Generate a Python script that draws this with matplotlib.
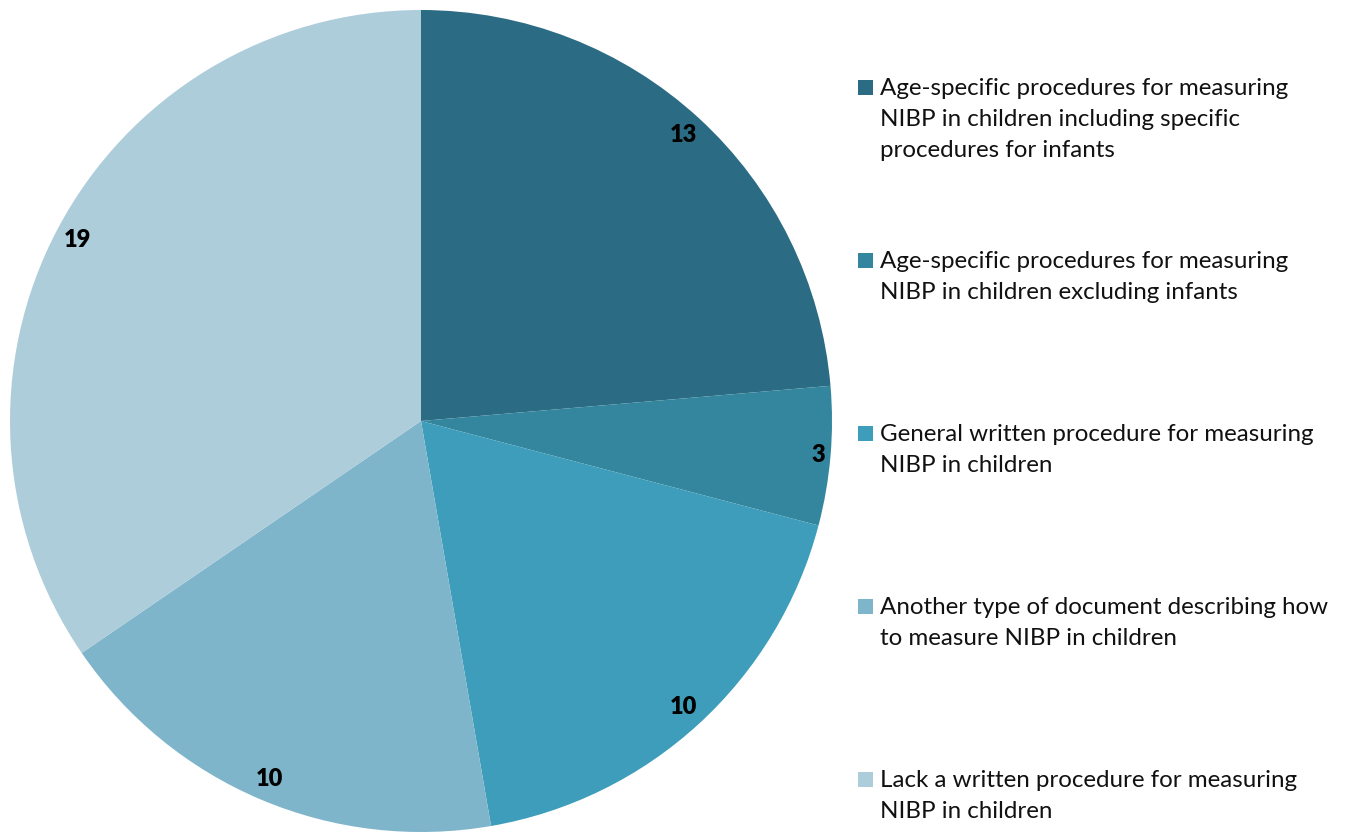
import numpy as np
import matplotlib.pyplot as plt
from matplotlib.patches import Rectangle

plt.rcParams['font.family'] = ['Lato', 'DejaVu Sans']

# Survey answers: how units document NIBP measurement in children
categories = [
    "Age-specific procedures for measuring\nNIBP in children including specific\nprocedures for infants",
    "Age-specific procedures for measuring\nNIBP in children excluding infants",
    "General written procedure for measuring\nNIBP in children",
    "Another type of document describing how\nto measure NIBP in children",
    "Lack a written procedure for measuring\nNIBP in children",
]
counts = [13, 3, 10, 10, 19]
colors = ['#2b6c84', '#33869e', '#3e9dba', '#7fb5cb', '#adcddb']

W, H = 1348, 833
fig = plt.figure(figsize=(W / 100, H / 100), dpi=100)

# pie centred at (421, 421) px with radius 411 px
cx, cy, r = 421, 421, 411
ax = fig.add_axes([(cx - r) / W, (H - cy - r) / H, 2 * r / W, 2 * r / H])
wedges, texts = ax.pie(counts, colors=colors, startangle=90, counterclock=False,
                       radius=1, labels=[str(c) for c in counts], labeldistance=0.945,
                       wedgeprops=dict(linewidth=0))
ax.set_xlim(-1, 1)
ax.set_ylim(-1, 1)
ax.set_aspect('equal')

for i, (w, t) in enumerate(zip(wedges, texts)):
    t.set_fontsize(17)
    t.set_fontweight('heavy')
    t.set_color('black')
    t.set_ha('center')
    t.set_va('center')
    # narrow slice: push its label closer to the rim
    if counts[i] < 5:
        ang = np.deg2rad((w.theta1 + w.theta2) / 2)
        t.set_position((0.97 * np.cos(ang), 0.97 * np.sin(ang)))

# legend drawn on the right, handle aligned with the first text line
y0, step = 87, 173
for i, (lab, col) in enumerate(zip(categories, colors)):
    y = y0 + i * step
    fig.patches.append(Rectangle((858 / W, 1 - (y + 7.5) / H), 15 / W, 15 / H,
                                 transform=fig.transFigure, facecolor=col,
                                 edgecolor='none'))
    fig.text(880 / W, 1 - (y - 9) / H, lab, ha='left', va='top',
             fontsize=17.4, color='#111111', linespacing=1.6)

fig.savefig('out.png', dpi=100, facecolor='white')
